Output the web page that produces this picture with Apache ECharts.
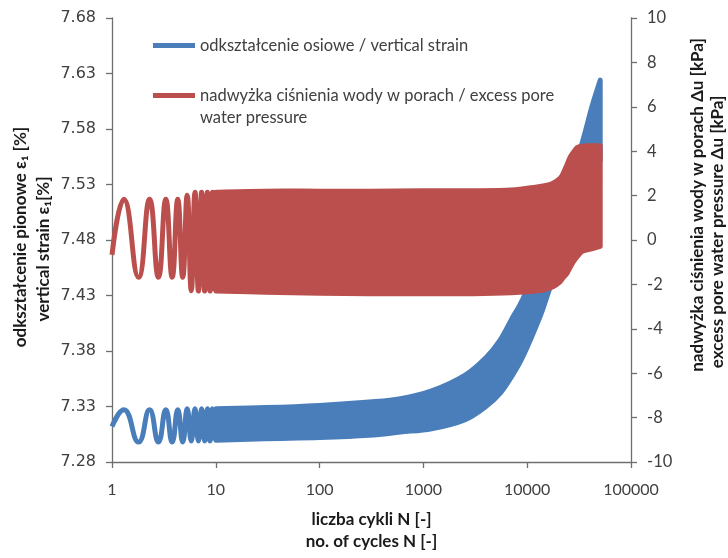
<!DOCTYPE html>
<html><head><meta charset="utf-8">
<script src="https://cdn.jsdelivr.net/npm/echarts@6/dist/echarts.min.js"></script>
<style>html,body{margin:0;padding:0;background:#fff}#c{width:728px;height:558px}</style>
</head><body><div id="c"></div>
<script>
// ---- data ----
const xTicks = [1, 10, 100, 1000, 10000, 100000];
const strainTicks = [7.28, 7.33, 7.38, 7.43, 7.48, 7.53, 7.58, 7.63, 7.68];
const pressureTicks = [-10, -8, -6, -4, -2, 0, 2, 4, 6, 8, 10];

// first cycles (individual peaks / troughs visible)
const earlyN        = [1, 1.3, 1.8, 2.3, 2.8, 3.3, 3.8, 4.3, 4.8, 5.3, 5.8, 6.3, 6.8, 7.3, 7.8, 8.3, 8.8, 9.3, 9.8];
const earlyStrain   = [7.312, 7.327, 7.298, 7.327, 7.298, 7.327, 7.298, 7.327, 7.298, 7.328, 7.299, 7.328, 7.299, 7.328, 7.299, 7.328, 7.299, 7.328, 7.2996];
const earlyPressure = [-0.67, 1.83, -1.68, 1.83, -1.68, 1.83, -1.68, 1.83, -1.68, 2.02, -2.29, 2.15, -2.30, 2.15, -2.30, 2.15, -2.30, 2.15, -2.30];

// later cycles: envelope (max / min per cycle)
const strainBandN   = [10, 30, 100, 300, 600, 1200, 2500, 4000, 5500, 7300, 9100, 13300, 15500, 20700, 27000, 33700, 42000, 50500];
const strainUpper   = [7.328, 7.329, 7.331, 7.334, 7.337, 7.344, 7.358, 7.374, 7.390, 7.411, 7.427, 7.464, 7.480, 7.509, 7.540, 7.567, 7.600, 7.624];
const strainLower   = [7.2996, 7.301, 7.302, 7.304, 7.307, 7.310, 7.318, 7.330, 7.342, 7.359, 7.375, 7.411, 7.429, 7.463, 7.488, 7.510, 7.532, 7.552];

const pressureBandN = [10, 30, 100, 300, 1000, 3000, 7000, 12000, 15500, 17700, 20700, 22200, 24000, 25800, 27700, 30300, 33900, 40000, 50500];
const pressureUpper = [2.15, 2.20, 2.20, 2.20, 2.22, 2.22, 2.25, 2.38, 2.47, 2.56, 2.78, 3.00, 3.36, 3.71, 3.93, 4.16, 4.22, 4.24, 4.24];
const pressureLower = [-2.30, -2.35, -2.40, -2.42, -2.42, -2.42, -2.38, -2.30, -2.20, -2.11, -1.89, -1.70, -1.53, -1.25, -1.00, -0.75, -0.51, -0.42, -0.29];

const NAME_STRAIN = 'odkształcenie osiowe / vertical strain';
const NAME_PRESS  = 'nadwyżka ciśnienia wody w porach / excess pore';
const BLUE = '#4A7EBB', RED = '#BA4F4D';
const FONT = 'Lato';
const TXT = '#404040';
const TITLE = '#1a1a1a';

// smooth (Catmull-Rom) path segments through pixel points
function curveThrough(p) {
  let d = '';
  const n = p.length;
  for (let i = 0; i < n - 1; i++) {
    const p0 = p[Math.max(i - 1, 0)], p1 = p[i], p2 = p[i + 1], p3 = p[Math.min(i + 2, n - 1)];
    const c1x = p1[0] + (p2[0] - p0[0]) / 6, c1y = p1[1] + (p2[1] - p0[1]) / 6;
    const c2x = p2[0] - (p3[0] - p1[0]) / 6, c2y = p2[1] - (p3[1] - p1[1]) / 6;
    d += ' C' + c1x + ' ' + c1y + ' ' + c2x + ' ' + c2y + ' ' + p2[0] + ' ' + p2[1];
  }
  return d;
}

// envelope band (max / min of each cycle) drawn as a filled shape through the axes
function bandSeries(name, yAxisIndex, Ns, up, lo, color, z) {
  return {
    type: 'custom', name: name, xAxisIndex: 0, yAxisIndex: yAxisIndex, z: z,
    itemStyle: { color: color },
    data: Ns.map((n, i) => [n, up[i], lo[i]]),
    encode: { x: 0, y: [1, 2] },
    renderItem: function (params, api) {
      if (params.dataIndex !== 0) return null;
      const upPts = Ns.map((n, i) => api.coord([n, up[i]]));
      const loPts = Ns.map((n, i) => api.coord([n, lo[i]])).reverse();
      const d = 'M' + upPts[0][0] + ' ' + upPts[0][1] + curveThrough(upPts) +
        ' L' + loPts[0][0] + ' ' + loPts[0][1] + curveThrough(loPts) + ' Z';
      return { type: 'path', shape: { pathData: d },
        style: { fill: color, stroke: color, lineWidth: 5, lineJoin: 'round' } };
    }
  };
}

const chart = echarts.init(document.getElementById('c'), null, { renderer: 'canvas' });
const axisLineStyle = { color: '#6f6f6f', width: 1.3 };
const titleFont = 'bold 17px ' + FONT;
chart.setOption({
  animation: false,
  backgroundColor: '#fff',
  grid: { left: 112, right: 97, top: 18, bottom: 90 },
  legend: [
    { data: [NAME_STRAIN], left: 153, top: 37, padding: 0, icon: 'rect', itemWidth: 42, itemHeight: 5,
      textStyle: { fontFamily: FONT, fontSize: 16.5, color: TXT }, selectedMode: false },
    { data: [NAME_PRESS], left: 153, top: 87, padding: 0, icon: 'rect', itemWidth: 42, itemHeight: 5,
      textStyle: { fontFamily: FONT, fontSize: 16.5, color: TXT }, selectedMode: false }
  ],
  graphic: [
    { type: 'text', left: 200, top: 109, style: { text: 'water pressure', font: '16.5px ' + FONT, fill: TXT } },
    { type: 'text', x: 21, y: 237, rotation: Math.PI / 2,
      style: { text: 'odkształcenie pionowe ε₁ [%]', font: titleFont, fill: TITLE, align: 'center', verticalAlign: 'middle' } },
    { type: 'text', x: 44, y: 249, rotation: Math.PI / 2,
      style: { text: 'vertical strain ε₁[%]', font: titleFont, fill: TITLE, align: 'center', verticalAlign: 'middle' } },
    { type: 'text', x: 698, y: 205, rotation: Math.PI / 2,
      style: { text: 'nadwyżka ciśnienia wody w porach Δu [kPa]', font: titleFont, fill: TITLE, align: 'center', verticalAlign: 'middle' } },
    { type: 'text', x: 718, y: 232, rotation: Math.PI / 2,
      style: { text: 'excess pore water pressure Δu [kPa]', font: titleFont, fill: TITLE, align: 'center', verticalAlign: 'middle' } }
  ],
  xAxis: {
    type: 'log', logBase: 10, min: xTicks[0], max: xTicks[xTicks.length - 1],
    axisLine: { onZero: false, lineStyle: axisLineStyle }, axisTick: { length: 6, lineStyle: axisLineStyle },
    splitLine: { show: false }, minorTick: { show: false },
    axisLabel: { formatter: v => String(Math.round(v)), fontFamily: FONT, fontSize: 16, color: TXT, margin: 20 },
    name: 'liczba cykli N [-]\nno. of cycles N [-]', nameLocation: 'middle', nameGap: 47,
    nameTextStyle: { fontFamily: FONT, fontWeight: 'bold', fontSize: 17, lineHeight: 22, color: TITLE }
  },
  yAxis: [
    { type: 'value', min: strainTicks[0], max: strainTicks[strainTicks.length - 1], interval: 0.05,
      axisLine: { show: true, onZero: false, lineStyle: axisLineStyle }, axisTick: { show: true, length: 6, lineStyle: axisLineStyle },
      splitLine: { show: false },
      axisLabel: { formatter: v => v.toFixed(2), fontFamily: 'DejaVu Sans', fontSize: 16, color: TXT, margin: 16 } },
    { type: 'value', min: pressureTicks[0], max: pressureTicks[pressureTicks.length - 1], interval: 2, position: 'right',
      axisLine: { show: true, onZero: false, lineStyle: axisLineStyle }, axisTick: { show: true, length: 6, lineStyle: axisLineStyle },
      splitLine: { show: false },
      axisLabel: { formatter: v => String(v), fontFamily: FONT, fontSize: 16.5, color: TXT, margin: 16 } }
  ],
  series: [
    bandSeries(NAME_STRAIN, 0, strainBandN, strainUpper, strainLower, BLUE, 2),
    { type: 'line', name: NAME_STRAIN, yAxisIndex: 0, z: 2, data: earlyN.map((n, i) => [n, earlyStrain[i]]),
      smooth: 0.5, symbol: 'none', lineStyle: { width: 5, color: BLUE }, itemStyle: { color: BLUE } },
    bandSeries(NAME_PRESS, 1, pressureBandN, pressureUpper, pressureLower, RED, 3),
    { type: 'line', name: NAME_PRESS, yAxisIndex: 1, z: 3, data: earlyN.map((n, i) => [n, earlyPressure[i]]),
      smooth: 0.5, symbol: 'none', lineStyle: { width: 5, color: RED }, itemStyle: { color: RED } }
  ]
});
</script></body></html>
